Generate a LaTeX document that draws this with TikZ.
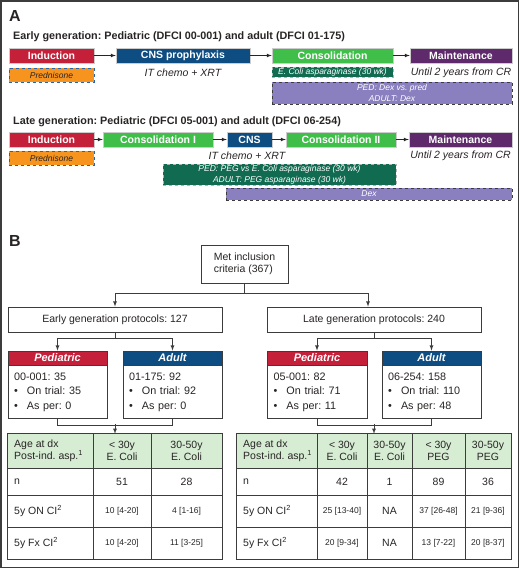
\documentclass[tikz,border=0pt]{standalone}
\usepackage{fontspec}
\setmainfont{Liberation Sans}
\usepackage{tikz}
\usetikzlibrary{shapes,arrows,positioning}
\definecolor{indred}{RGB}{196,32,58}
\definecolor{cnsblue}{RGB}{14,77,130}
\definecolor{consgreen}{RGB}{64,190,74}
\definecolor{maintpurple}{RGB}{94,42,108}
\definecolor{predorange}{RGB}{247,148,30}
\definecolor{predblue}{RGB}{40,100,170}
\definecolor{aspgreen}{RGB}{16,107,80}
\definecolor{dexlavender}{RGB}{138,128,192}
\definecolor{hdrgreen}{RGB}{214,237,212}
\definecolor{inkgray}{RGB}{40,36,36}
\definecolor{linegray}{RGB}{60,60,60}
\newcommand{\pbul}{\makebox[13pt][l]{\textbullet}}

\begin{document}
\frenchspacing
\begin{tikzpicture}[x=1pt, y=-1pt, >=latex,
    phase/.style={draw=white!80!black, line width=0.5pt, inner sep=0pt, minimum height=15pt, text=white, font=\fontsize{10.5}{12}\selectfont\bfseries},
    note/.style={inner sep=0pt, text=inkgray, font=\fontsize{10.5}{12}\selectfont\itshape},
    drug/.style={dashed, line width=0.9pt, inner sep=0pt, align=center, text=white, font=\fontsize{8.5}{10.5}\selectfont\itshape},
    title/.style={anchor=west, inner sep=0pt, text=inkgray, font=\fontsize{10.8}{12}\selectfont\bfseries},
    box/.style={draw=linegray, line width=0.8pt, inner sep=0pt, fill=white, text=inkgray, font=\fontsize{10.5}{12.5}\selectfont},
    head/.style={draw=linegray, line width=0.8pt, inner sep=0pt, minimum height=14pt, text=white, font=\fontsize{11}{12}\selectfont\bfseries\itshape},
    body/.style={box, minimum height=53pt, text width=87pt, inner xsep=6pt, align=left, font=\fontsize{10.8}{14.5}\selectfont},
    grid/.style={draw=linegray, line width=0.8pt},
    cell/.style={inner sep=0pt, align=center, text=inkgray, font=\fontsize{10.5}{12}\selectfont},
    ci/.style={cell, font=\fontsize{8.5}{10}\selectfont}]
\useasboundingbox (0,0) rectangle (520,569);
\draw[linegray, line width=1.8pt] (1,1) rectangle (518.5,567.5);

% A
\node[anchor=west, inner sep=0pt, text=inkgray, font=\fontsize{16}{16}\selectfont\bfseries] (lblA) at (9,16) {A};

% Early generation
\node[title] (ttlE) at (13,37) {Early generation: Pediatric (DFCI 00-001) and adult (DFCI 01-175)};
\node[phase, fill=indred, minimum width=85pt] (ind1) at (51.5,55.5) {Induction};
\node[phase, fill=cnsblue, minimum width=134pt] (cns1) at (183,55.5) {CNS prophylaxis};
\node[phase, fill=consgreen, minimum width=121pt] (con1) at (332.5,55.5) {Consolidation};
\node[phase, fill=maintpurple, minimum width=102pt] (mai1) at (461,55.5) {Maintenance};
\draw[->, inkgray, line width=0.7pt] (ind1) -- (cns1);
\draw[->, inkgray, line width=0.7pt] (cns1) -- (con1);
\draw[->, inkgray, line width=0.7pt] (con1) -- (mai1);

\node[drug, fill=predorange, draw=predblue, text=inkgray, minimum width=85pt, minimum height=14pt] (pred1) at (51.5,75) {Prednisone};
\node[note] (itx1) at (183,72.5) {IT chemo + XRT};
\node[drug, fill=aspgreen, draw=white!70!black, minimum width=121pt, minimum height=10pt] (asp1) at (332.5,72) {E. Coli asparaginase (30 wk)};
\node[note] (unt1) at (461,72.5) {Until 2 years from CR};
\node[drug, fill=dexlavender, draw=linegray, minimum width=240pt, minimum height=22pt] (dex1) at (392,93) {PED: Dex vs. pred\\ADULT: Dex};

% Late generation
\node[title] (ttlL) at (13,121.5) {Late generation: Pediatric (DFCI 05-001) and adult (DFCI 06-254)};
\node[phase, fill=indred, minimum width=85pt] (ind2) at (51.5,139.5) {Induction};
\node[phase, fill=consgreen, minimum width=110pt] (con2a) at (158,139.5) {Consolidation I};
\node[phase, fill=cnsblue, minimum width=45pt] (cns2) at (249.5,139.5) {CNS};
\node[phase, fill=consgreen, minimum width=110pt] (con2b) at (341,139.5) {Consolidation II};
\node[phase, fill=maintpurple, minimum width=103pt] (mai2) at (460.5,139.5) {Maintenance};
\draw[->, inkgray, line width=0.7pt] (ind2) -- (con2a);
\draw[->, inkgray, line width=0.7pt] (con2a) -- (cns2);
\draw[->, inkgray, line width=0.7pt] (cns2) -- (con2b);
\draw[->, inkgray, line width=0.7pt] (con2b) -- (mai2);

\node[drug, fill=predorange, draw=predblue, text=inkgray, minimum width=85pt, minimum height=14pt] (pred2) at (51.5,158) {Prednisone};
\node[note] (itx2) at (247,156) {IT chemo + XRT};
\node[note] (unt2) at (460.5,156) {Until 2 years from CR};
\node[drug, fill=aspgreen, draw=white!70!black, minimum width=233pt, minimum height=21pt, font=\fontsize{8.5}{11}\selectfont\itshape] (asp2) at (279.5,174.5) {PED: PEG vs E. Coli asparaginase (30 wk)\\ADULT: PEG asparaginase (30 wk)};
\node[drug, fill=dexlavender, draw=linegray, minimum width=286pt, minimum height=12pt] (dex2) at (369,194) {Dex};

% B
\node[anchor=west, inner sep=0pt, text=inkgray, font=\fontsize{16}{16}\selectfont\bfseries] (lblB) at (9,240.5) {B};
\node[box, minimum width=87pt, minimum height=38pt, align=left] (met) at (244.5,264) {Met inclusion\\criteria (367)};
\node[box, minimum width=214pt, minimum height=25pt] (early) at (115,319.5) {Early generation protocols: 127};
\node[box, minimum width=214pt, minimum height=25pt] (late) at (374,319.5) {Late generation protocols: 240};
\draw[linegray, line width=0.8pt] (met.south) -- ++(0,10) coordinate (splitA);
\draw[->, linegray, line width=0.8pt] (splitA) -| (early.north);
\draw[->, linegray, line width=0.8pt] (splitA) -| ([xshift=-6pt]late.north);

% early protocols
\node[head, fill=indred, minimum width=99pt] (pedEh) at (57.5,358) {Pediatric};
\node[head, fill=cnsblue, minimum width=99pt] (adEh) at (172.5,358) {Adult};
\node[body, anchor=north] (pedEb) at (pedEh.south) {00-001: 35\\\pbul On trial: 35\\\pbul As per: 0};
\node[body, anchor=north] (adEb) at (adEh.south) {01-175: 92\\\pbul On trial: 92\\\pbul As per: 0};
\draw[linegray, line width=0.8pt] (early.south) -- ++(0,6) coordinate (splitE);
\draw[->, linegray, line width=0.8pt] (splitE) -| (pedEh.north);
\draw[->, linegray, line width=0.8pt] (splitE) -| (adEh.north);

% late protocols
\node[head, fill=indred, minimum width=100pt] (pedLh) at (317,358) {Pediatric};
\node[head, fill=cnsblue, minimum width=99pt] (adLh) at (431.5,358) {Adult};
\node[body, anchor=north, minimum width=100pt] (pedLb) at (pedLh.south) {05-001: 82\\\pbul On trial: 71\\\pbul As per: 11};
\node[body, anchor=north] (adLb) at (adLh.south) {06-254: 158\\\pbul On trial: 110\\\pbul As per: 48};
\draw[linegray, line width=0.8pt] (late.south) -- ++(0,6) coordinate (splitL);
\draw[->, linegray, line width=0.8pt] (splitL) -| (pedLh.north);
\draw[->, linegray, line width=0.8pt] (splitL) -| (adLh.north);

% left table
\node[inner sep=0pt, minimum width=214pt, minimum height=125pt] (tabE) at (115,496.5) {};
\fill[hdrgreen] (tabE.north west) rectangle (222,468);
\foreach \yy in {468,495,527} \draw[grid] (8,\yy) -- (222,\yy);
\foreach \xx in {93,151} \draw[grid] (\xx,434) -- (\xx,559);
\draw[grid] (tabE.north west) rectangle (tabE.south east);
\draw[linegray, line width=0.8pt] (pedEb.south) -- ++(0,6) -| (adEb.south);
\draw[->, linegray, line width=0.8pt] ([yshift=10pt]tabE.north) -- (tabE.north);
\node[cell, anchor=west, align=left] (tEh0) at (14,451) {Age at dx\\Post-ind. asp.\textsuperscript{1}};
\node[cell] (tEh1) at (122,451) {< 30y\\E. Coli};
\node[cell] (tEh2) at (186.5,451) {30-50y\\E. Coli};
\node[cell, anchor=west] (tEn0) at (14,481.5) {n};
\node[cell] (tEn1) at (122,481.5) {51};
\node[cell] (tEn2) at (186.5,481.5) {28};
\node[cell, anchor=west] (tEo0) at (14,511) {5y ON CI\textsuperscript{2}};
\node[ci] (tEo1) at (122,511) {10 [4-20]};
\node[ci] (tEo2) at (186.5,511) {4 [1-16]};
\node[cell, anchor=west] (tEf0) at (14,543) {5y Fx CI\textsuperscript{2}};
\node[ci] (tEf1) at (122,543) {10 [4-20]};
\node[ci] (tEf2) at (186.5,543) {11 [3-25]};

% right table
\node[inner sep=0pt, minimum width=274pt, minimum height=125pt] (tabL) at (374,496.5) {};
\fill[hdrgreen] (tabL.north west) rectangle (511,468);
\foreach \yy in {468,495,527} \draw[grid] (237,\yy) -- (511,\yy);
\foreach \xx in {317,367,412,465} \draw[grid] (\xx,434) -- (\xx,559);
\draw[grid] (tabL.north west) rectangle (tabL.south east);
\draw[linegray, line width=0.8pt] (pedLb.south) -- ++(0,6) -| (adLb.south);
\draw[->, linegray, line width=0.8pt] ([yshift=10pt]tabL.north) -- (tabL.north);
\node[cell, anchor=west, align=left] (tLh0) at (243,451) {Age at dx\\Post-ind. asp.\textsuperscript{1}};
\node[cell] (tLh1) at (342,451) {< 30y\\E. Coli};
\node[cell] (tLh2) at (389.5,451) {30-50y\\E. Coli};
\node[cell] (tLh3) at (438.5,451) {< 30y\\PEG};
\node[cell] (tLh4) at (488,451) {30-50y\\PEG};
\node[cell, anchor=west] (tLn0) at (243,481.5) {n};
\node[cell] (tLn1) at (342,481.5) {42};
\node[cell] (tLn2) at (389.5,481.5) {1};
\node[cell] (tLn3) at (438.5,481.5) {89};
\node[cell] (tLn4) at (488,481.5) {36};
\node[cell, anchor=west] (tLo0) at (243,511) {5y ON CI\textsuperscript{2}};
\node[ci] (tLo1) at (342,511) {25 [13-40]};
\node[cell] (tLo2) at (389.5,511) {NA};
\node[ci] (tLo3) at (438.5,511) {37 [26-48]};
\node[ci] (tLo4) at (488,511) {21 [9-36]};
\node[cell, anchor=west] (tLf0) at (243,543) {5y Fx CI\textsuperscript{2}};
\node[ci] (tLf1) at (342,543) {20 [9-34]};
\node[cell] (tLf2) at (389.5,543) {NA};
\node[ci] (tLf3) at (438.5,543) {13 [7-22]};
\node[ci] (tLf4) at (488,543) {20 [8-37]};
\end{tikzpicture}
\end{document}
